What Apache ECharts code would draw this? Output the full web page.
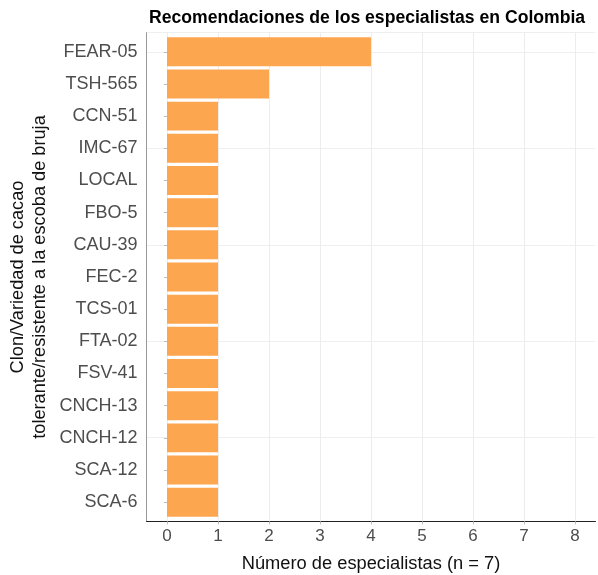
<!DOCTYPE html>
<html>
<head>
<meta charset="utf-8">
<script src="https://cdn.jsdelivr.net/npm/echarts@6/dist/echarts.min.js"></script>
<style>
html,body{margin:0;padding:0;background:#fff;}
#chart{width:598px;height:575px;}
</style>
</head>
<body>
<div id="chart"></div>
<script>
const categories = ["FEAR-05","TSH-565","CCN-51","IMC-67","LOCAL","FBO-5","CAU-39","FEC-2","TCS-01","FTA-02","FSV-41","CNCH-13","CNCH-12","SCA-12","SCA-6"];
const values = [4,2,1,1,1,1,1,1,1,1,1,1,1,1,1];
const xTicks = [0,1,2,3,4,5,6,7,8];
const titleText = "Recomendaciones de los especialistas en Colombia";
const xName = "Número de especialistas (n = 7)";
const yName = "Clon/Variedad de cacao\ntolerante/resistente a la escoba de bruja";

const idx = categories.map((c,i)=>i);
const font = "Liberation Sans, Arial, sans-serif";
// panel: top 32.7, bottom 521.3 (15 bands + 0.6 band expansion each side)
const panelTop = 32.7, panelBottom = 575-521.3;
const band = (521.3-32.7)/(categories.length+1.2);
const chart = echarts.init(document.getElementById('chart'));
chart.setOption({
  animation:false,
  backgroundColor:'#ffffff',
  title:{
    text:titleText, left:149, top:9, padding:0,
    textStyle:{fontFamily:font,fontWeight:'bold',fontSize:17.6,color:'#000'}
  },
  grid:[
    {left:146.6, right:2.6, top:panelTop, bottom:panelBottom, containLabel:false, outerBoundsMode:'none'},
    {left:146.6, right:2.6, top:panelTop+0.1*band, bottom:panelBottom+0.1*band, containLabel:false, outerBoundsMode:'none'}
  ],
  xAxis:[{
    gridIndex:0, type:'value', min:-0.4, max:8.4,
    name:xName, nameLocation:'middle', nameGap:34,
    nameTextStyle:{fontFamily:font,fontSize:18.3,color:'#111'},
    axisLine:{show:true,onZero:false,lineStyle:{color:'#222',width:1.2}},
    axisTick:{show:true,customValues:xTicks,length:3,lineStyle:{color:'#bbb'}},
    axisLabel:{customValues:xTicks,fontFamily:font,fontSize:17,color:'#4d4d4d',margin:7},
    splitLine:{show:true,lineStyle:{color:'#ececec',width:1}}
  },{
    gridIndex:1, type:'value', min:-0.4, max:8.4, show:false
  }],
  yAxis:[{
    gridIndex:0, type:'value', inverse:true, min:-0.6, max:categories.length-0.4,
    name:yName, nameLocation:'middle', nameGap:96,
    nameTextStyle:{fontFamily:font,fontSize:18.2,color:'#111',lineHeight:22},
    axisLine:{show:true,onZero:false,lineStyle:{color:'#999',width:1}},
    axisTick:{show:false},
    axisLabel:{show:false},
    splitLine:{show:true,lineStyle:{color:'#efefef',width:1}}
  },{
    gridIndex:1, type:'category', inverse:true, data:categories,
    axisLine:{show:false},
    axisTick:{show:true,alignWithLabel:true,length:3,inside:false,lineStyle:{color:'#bbb'}},
    axisLabel:{fontFamily:font,fontSize:18,color:'#4d4d4d',margin:9},
    splitLine:{show:false}
  }],
  series:[{
    type:'bar',
    xAxisIndex:1, yAxisIndex:1,
    data:values,
    barWidth:'90%',
    itemStyle:{color:'#FDA650'},
    z:2
  }]
});
</script>
</body>
</html>
